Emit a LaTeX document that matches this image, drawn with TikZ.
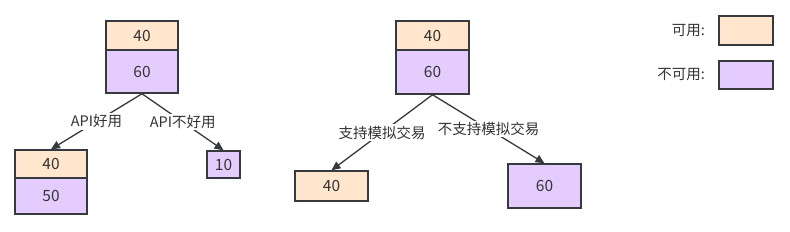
\documentclass[tikz,border=0pt]{standalone}
\usepackage{fontspec}
\setmainfont{Noto Sans CJK SC}
\usetikzlibrary{arrows.meta}
\definecolor{okfill}{HTML}{FFE6CC}
\definecolor{nofill}{HTML}{E5CCFF}
\definecolor{strk}{HTML}{36393D}
\definecolor{txt}{HTML}{333333}
\tikzset{
  cell/.style={draw=strk, line width=1.5pt, rectangle, inner sep=0pt, text=txt, font=\fontsize{15.5}{18}\selectfont},
  okcell/.style={cell, fill=okfill},
  nocell/.style={cell, fill=nofill},
  arr/.style={draw=strk, line width=1.3pt, -{Triangle[length=9pt,width=8pt]}},
  lbl/.style={fill=white, inner sep=1.5pt, text=txt, font=\fontsize{14.5}{17}\selectfont},
  legtxt/.style={anchor=east, text=txt, inner sep=0pt, font=\fontsize{14.5}{17}\selectfont}
}
\begin{document}
\begin{tikzpicture}[x=1pt,y=-1pt]
\useasboundingbox (0,0) rectangle (790,231);
% left tree
\node[okcell, minimum width=72pt, minimum height=29pt] (a1) at (142,35.5) {40};
\node[nocell, minimum width=72pt, minimum height=43pt] (a2) at (142,71.5) {60};
\node[okcell, minimum width=72pt, minimum height=28pt] (b1) at (51,164) {40};
\node[nocell, minimum width=72pt, minimum height=36pt] (b2) at (51,196) {50};
\node[nocell, minimum width=33pt, minimum height=27pt] (c1) at (223.5,164.5) {10};
\draw[arr] (a2.south) -- (b1.north) node[midway, lbl] {API好用};
\draw[arr] (a2.south) -- (c1.north) node[midway, lbl] {API不好用};
% middle tree
\node[okcell, minimum width=73pt, minimum height=29pt] (d1) at (432.5,35.5) {40};
\node[nocell, minimum width=73pt, minimum height=44pt] (d2) at (432.5,72) {60};
\node[okcell, minimum width=73pt, minimum height=30pt] (e1) at (331.5,186) {40};
\node[nocell, minimum width=73pt, minimum height=44pt] (f1) at (544.5,186) {60};
\draw[arr] (d2.south) -- (e1.north) node[midway, lbl] {支持模拟交易};
\draw[arr] (d2.south) -- (f1.north) node[midway, lbl] {不支持模拟交易};
% legend
\node[okcell, minimum width=54pt, minimum height=29pt] (g1) at (746,30.5) {};
\node[nocell, minimum width=54pt, minimum height=28pt] (g2) at (746,75) {};
\node[legtxt] (h1) at (705,31) {可用:};
\node[legtxt] (h2) at (705,75) {不可用:};
\end{tikzpicture}
\end{document}
